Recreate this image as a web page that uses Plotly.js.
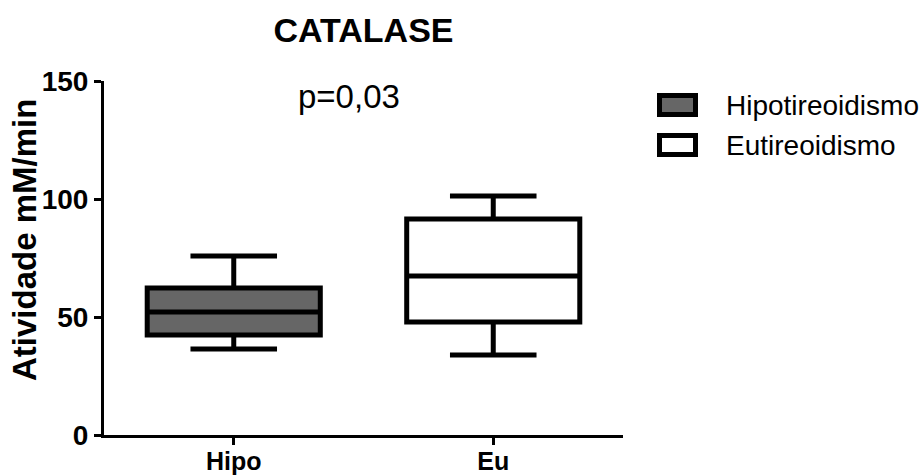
<!DOCTYPE html>
<html>
<head>
<meta charset="utf-8">
<script src="https://cdn.plot.ly/plotly-3.0.1.min.js"></script>
<style>
  html, body { margin: 0; padding: 0; background: #ffffff; }
  #chart { width: 922px; height: 475px; }
</style>
</head>
<body>
<div id="chart"></div>
<script>
// ---- data ----
const categories = ['Hipo', 'Eu'];
const seriesNames = ['Hipotireoidismo', 'Eutireoidismo'];
const lowerWhisker = [36.4, 33.9];
const q1Values = [42.4, 47.9];
const medianValues = [52.1, 67.4];
const q3Values = [62.3, 91.5];
const upperWhisker = [75.8, 101.3];
const yTicks = [0, 50, 100, 150];
const chartTitle = 'CATALASE';
const yTitle = 'Atividade mM/min';
const pText = 'p=0,03';

// ---- styling ----
const fillColors = ['#666666', '#ffffff'];
const FONT = 'Liberation Sans, Arial, Helvetica, sans-serif';
const W = 922, H = 475;
const M = { l: 104, r: 299, t: 81, b: 40 };
const plotW = W - M.l - M.r, plotH = H - M.t - M.b;
const px2x = px => (px - M.l) / plotW;
const px2y = py => (H - M.b - py) / plotH;

const traces = categories.map((c, i) => ({
  type: 'box',
  name: seriesNames[i],
  x: [c],
  q1: [q1Values[i]],
  median: [medianValues[i]],
  q3: [q3Values[i]],
  lowerfence: [lowerWhisker[i]],
  upperfence: [upperWhisker[i]],
  fillcolor: fillColors[i],
  line: { color: '#000000', width: 5 },
  width: 0.667,
  whiskerwidth: 0.5,
  boxpoints: false,
  showlegend: false,
  hoverinfo: 'skip'
}));

// custom legend (icons + labels)
const legendRows = [105, 145];
const shapes = [];
const annotations = [];
seriesNames.forEach((n, i) => {
  const cy = legendRows[i];
  shapes.push({
    type: 'rect', xref: 'paper', yref: 'paper',
    x0: px2x(659.5), x1: px2x(695.5),
    y0: px2y(cy + 9.5), y1: px2y(cy - 9.5),
    fillcolor: fillColors[i],
    line: { color: '#000000', width: 5 }
  });
  annotations.push({
    xref: 'paper', yref: 'paper',
    x: px2x(724), y: px2y(cy),
    xanchor: 'left', yanchor: 'middle',
    text: n, showarrow: false,
    font: { family: FONT, size: 28, color: '#000000' }
  });
});
annotations.push({
  xref: 'paper', yref: 'paper',
  x: px2x(349), y: px2y(96),
  xanchor: 'center', yanchor: 'middle',
  text: pText, showarrow: false,
  font: { family: FONT, size: 33, color: '#000000' }
});
annotations.push({
  xref: 'paper', yref: 'paper',
  x: px2x(24), y: px2y(240),
  xanchor: 'center', yanchor: 'middle',
  textangle: -90,
  text: yTitle, showarrow: false,
  font: { family: FONT, size: 33, color: '#000000', weight: 700 }
});

const layout = {
  width: W, height: H,
  margin: M,
  paper_bgcolor: '#ffffff',
  plot_bgcolor: '#ffffff',
  showlegend: false,
  title: {
    text: chartTitle,
    x: 0.5, xref: 'paper', xanchor: 'center',
    y: 1 - 30 / H, yref: 'container', yanchor: 'middle',
    font: { family: FONT, size: 34, color: '#000000', weight: 700 }
  },
  xaxis: {
    type: 'category',
    categoryorder: 'array',
    categoryarray: categories,
    range: [-0.5, 1.5],
    showline: true, linecolor: '#000000', linewidth: 3,
    ticks: 'outside', ticklen: 7, tickwidth: 3, tickcolor: '#000000',
    ticklabelstandoff: -5,
    tickfont: { family: FONT, size: 25, color: '#000000', weight: 700 },
    showgrid: false, zeroline: false, fixedrange: true
  },
  yaxis: {
    range: [0, 150],
    tickmode: 'array', tickvals: yTicks, ticktext: yTicks.map(String),
    showline: true, linecolor: '#000000', linewidth: 3,
    ticks: 'outside', ticklen: 7, tickwidth: 3, tickcolor: '#000000',
    tickfont: { family: FONT, size: 28, color: '#000000', weight: 700 },
    showgrid: false, zeroline: false, fixedrange: true
  },
  shapes: shapes,
  annotations: annotations
};

Plotly.newPlot('chart', traces, layout, { displayModeBar: false, staticPlot: true });
</script>
</body>
</html>
